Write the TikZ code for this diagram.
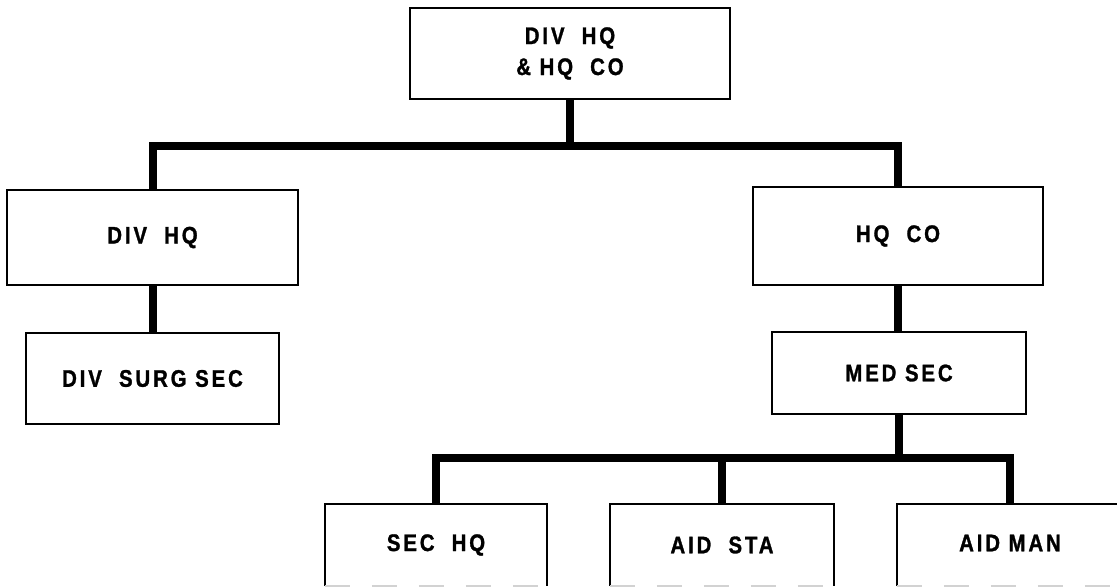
\documentclass[tikz,border=0pt]{standalone}
\usepackage{fontspec}
\setmainfont{Liberation Sans}[FakeStretch=0.85,LetterSpace=12,BoldFont={* Bold},BoldFeatures={FakeBold=1.2}]
\begin{document}
\begin{tikzpicture}[x=1pt,y=-1pt,
  lbl/.style={inner sep=0pt,font=\bfseries\fontsize{24}{31}\selectfont,align=center},
  box/.style={lbl,draw,line width=2.4pt},
  conn/.style={line width=8pt,line join=miter},
  side/.style={line width=2.4pt}]
\useasboundingbox (0,0) rectangle (1117,587);
\node[box,minimum width=320pt,minimum height=91pt] (top) at (570,53.5) {DIV\ \ HQ\\\& HQ\ \ CO};
\node[box,minimum width=291pt,minimum height=95pt] (divhq) at (152.5,237.5) {DIV\ \ HQ};
\node[box,minimum width=290pt,minimum height=98pt] (hqco) at (898,236) {HQ\ \ CO};
\node[box,minimum width=253pt,minimum height=91pt] (surg) at (152.5,378.5) {DIV\ \ SURG SEC};
\node[box,minimum width=254pt,minimum height=82pt] (medsec) at (899,373) {MED SEC};
\node[lbl,minimum width=222pt,minimum height=82pt] (sechq) at (436,545) {SEC\ \ HQ};
\node[lbl,minimum width=224pt,minimum height=82pt] (aidsta) at (722,545) {AID\ \ STA};
\node[lbl,minimum width=226pt,minimum height=82pt] (aidman) at (1010,545) {\raisebox{4pt}{AID\ MAN}};
% open boxes (cut at bottom)
\draw[side] (sechq.south west) -- (sechq.north west) -- (sechq.north east) -- (sechq.south east);
\draw[side] (aidsta.south west) -- (aidsta.north west) -- (aidsta.north east) -- (aidsta.south east);
\draw[side] (aidman.south west) -- (aidman.north west) -- (aidman.north east);
\draw[gray!35,line width=1.5pt,dash pattern=on 25pt off 22pt] (sechq.south west) -- (sechq.south east);
\draw[gray!35,line width=1.5pt,dash pattern=on 25pt off 22pt] (aidsta.south west) -- (aidsta.south east);
\draw[gray!35,line width=1.5pt,dash pattern=on 25pt off 22pt] (aidman.south west) -- (aidman.south east);
% connectors
\coordinate (b1) at (570,146);
\coordinate (b2) at (899,458);
\draw[conn] (top.south) -- (b1);
\draw[conn] (divhq.north) |- (b1) -| (hqco.north);
\draw[conn] (divhq.south) -- (surg.north);
\draw[conn] (hqco.south) -- (hqco.south |- medsec.north);
\draw[conn] (medsec.south) -- (b2);
\draw[conn] (sechq.north) |- (b2) -| (aidman.north);
\draw[conn] (aidsta.north) -- (aidsta.north |- b2);
\end{tikzpicture}
\end{document}
